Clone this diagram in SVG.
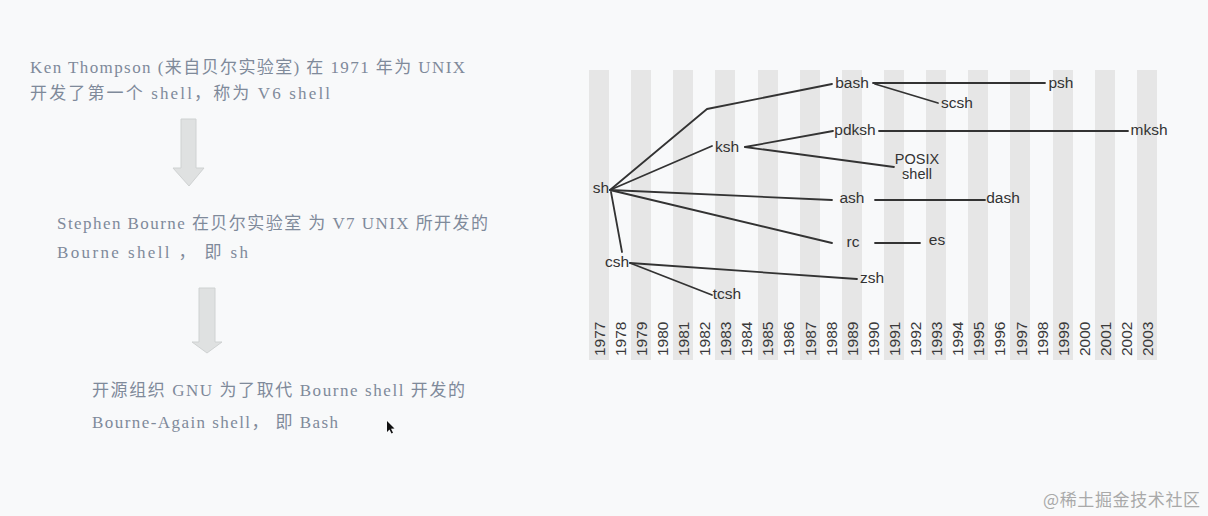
<svg xmlns="http://www.w3.org/2000/svg" width="1208" height="516" viewBox="0 0 1208 516">
<defs>
<style>
.bg{fill:#f8f9fa}
.stripe{fill:#e6e6e6}
.yr{font-family:"Liberation Sans",Arial,sans-serif;font-size:15.5px;fill:#3a3a3a}
.nd{font-family:"Liberation Sans",Arial,sans-serif;font-size:15.5px;fill:#333;text-anchor:middle}
.nds{font-family:"Liberation Sans",Arial,sans-serif;font-size:14.5px;fill:#333;text-anchor:middle}
.ln{fill:none;stroke:#333;stroke-width:1.8;stroke-linecap:round;stroke-linejoin:round}
.tx{font-family:"Liberation Serif","Noto Sans CJK SC",serif;font-size:17px;fill:#7f8a9a}
.arr{fill:#dfe1e1;stroke:#cfd2d2;stroke-width:1}
.wm{font-family:"Noto Sans CJK SC",sans-serif;font-size:17px;fill:#a9a9a9}
</style>
</defs>
<rect class="bg" x="0" y="0" width="1208" height="516"/>

<g id="text-left">
<text class="tx" x="30" y="73" textLength="435" lengthAdjust="spacing">Ken Thompson (来自贝尔实验室) 在 1971 年为 UNIX</text>
<text class="tx" x="30" y="99" textLength="300" lengthAdjust="spacing">开发了第一个 shell，称为 V6 shell</text>
<text class="tx" x="57" y="229" textLength="431" lengthAdjust="spacing">Stephen Bourne 在贝尔实验室 为 V7 UNIX 所开发的</text>
<text class="tx" x="57" y="258" textLength="191" lengthAdjust="spacing">Bourne shell ， 即 sh</text>
<text class="tx" x="92" y="396" textLength="373" lengthAdjust="spacing">开源组织 GNU 为了取代 Bourne shell 开发的</text>
<text class="tx" x="92" y="428" textLength="246" lengthAdjust="spacing">Bourne-Again shell， 即 Bash</text>
</g>

<g id="arrows-left">
<polygon class="arr" points="181,119 196,119 196,168 204,168 189,186 173,168 181,168"/>
<polygon class="arr" points="199,288 215,288 215,342 222,342 207,353 192,342 199,342"/>
</g>

<g id="stripes">
<rect class="stripe" x="589" y="70" width="20" height="290"/>
<rect class="stripe" x="631" y="70" width="20" height="290"/>
<rect class="stripe" x="673" y="70" width="20" height="290"/>
<rect class="stripe" x="715" y="70" width="20" height="290"/>
<rect class="stripe" x="758" y="70" width="20" height="290"/>
<rect class="stripe" x="800" y="70" width="20" height="290"/>
<rect class="stripe" x="842" y="70" width="20" height="290"/>
<rect class="stripe" x="884" y="70" width="20" height="290"/>
<rect class="stripe" x="926" y="70" width="20" height="290"/>
<rect class="stripe" x="968" y="70" width="20" height="290"/>
<rect class="stripe" x="1010" y="70" width="20" height="290"/>
<rect class="stripe" x="1053" y="70" width="20" height="290"/>
<rect class="stripe" x="1095" y="70" width="20" height="290"/>
<rect class="stripe" x="1137" y="70" width="20" height="290"/>
</g>

<g id="years">
<text class="yr" transform="translate(604.5,356) rotate(-90)">1977</text>
<text class="yr" transform="translate(625.6,356) rotate(-90)">1978</text>
<text class="yr" transform="translate(646.7,356) rotate(-90)">1979</text>
<text class="yr" transform="translate(667.8,356) rotate(-90)">1980</text>
<text class="yr" transform="translate(688.9,356) rotate(-90)">1981</text>
<text class="yr" transform="translate(710,356) rotate(-90)">1982</text>
<text class="yr" transform="translate(731.1,356) rotate(-90)">1983</text>
<text class="yr" transform="translate(752.2,356) rotate(-90)">1984</text>
<text class="yr" transform="translate(773.3,356) rotate(-90)">1985</text>
<text class="yr" transform="translate(794.4,356) rotate(-90)">1986</text>
<text class="yr" transform="translate(815.5,356) rotate(-90)">1987</text>
<text class="yr" transform="translate(836.6,356) rotate(-90)">1988</text>
<text class="yr" transform="translate(857.7,356) rotate(-90)">1989</text>
<text class="yr" transform="translate(878.8,356) rotate(-90)">1990</text>
<text class="yr" transform="translate(899.9,356) rotate(-90)">1991</text>
<text class="yr" transform="translate(921,356) rotate(-90)">1992</text>
<text class="yr" transform="translate(942.1,356) rotate(-90)">1993</text>
<text class="yr" transform="translate(963.2,356) rotate(-90)">1994</text>
<text class="yr" transform="translate(984.3,356) rotate(-90)">1995</text>
<text class="yr" transform="translate(1005.4,356) rotate(-90)">1996</text>
<text class="yr" transform="translate(1026.5,356) rotate(-90)">1997</text>
<text class="yr" transform="translate(1047.6,356) rotate(-90)">1998</text>
<text class="yr" transform="translate(1068.7,356) rotate(-90)">1999</text>
<text class="yr" transform="translate(1089.8,356) rotate(-90)">2000</text>
<text class="yr" transform="translate(1110.9,356) rotate(-90)">2001</text>
<text class="yr" transform="translate(1132,356) rotate(-90)">2002</text>
<text class="yr" transform="translate(1153.1,356) rotate(-90)">2003</text>
</g>

<g id="connectors">
<polyline class="ln" points="610,190 707,109 832,84"/>
<line class="ln" x1="610" y1="190" x2="712" y2="146"/>
<line class="ln" x1="745" y1="147" x2="833" y2="131"/>
<line class="ln" x1="745" y1="147" x2="894" y2="167"/>
<line class="ln" x1="879" y1="131" x2="1128" y2="131"/>
<line class="ln" x1="873" y1="83" x2="1045" y2="83"/>
<line class="ln" x1="875" y1="84" x2="938" y2="103"/>
<line class="ln" x1="610" y1="190" x2="832" y2="200"/>
<line class="ln" x1="875" y1="200" x2="985" y2="200"/>
<line class="ln" x1="610" y1="190" x2="832" y2="243"/>
<line class="ln" x1="875" y1="243" x2="920" y2="243"/>
<line class="ln" x1="611" y1="192" x2="622" y2="252"/>
<line class="ln" x1="630" y1="263" x2="857" y2="279"/>
<line class="ln" x1="630" y1="263" x2="712" y2="295"/>
</g>

<g id="node-sh"><text class="nd" x="601" y="193">sh</text></g>
<g id="node-bash"><text class="nd" x="852" y="88">bash</text></g>
<g id="node-psh"><text class="nd" x="1061" y="88">psh</text></g>
<g id="node-scsh"><text class="nd" x="957" y="108">scsh</text></g>
<g id="node-ksh"><text class="nd" x="727" y="152">ksh</text></g>
<g id="node-pdksh"><text class="nd" x="855" y="135">pdksh</text></g>
<g id="node-mksh"><text class="nd" x="1149" y="135">mksh</text></g>
<g id="node-posix"><text class="nds" x="917" y="164">POSIX</text><text class="nds" x="917" y="179">shell</text></g>
<g id="node-ash"><text class="nd" x="852" y="203">ash</text></g>
<g id="node-dash"><text class="nd" x="1003" y="203">dash</text></g>
<g id="node-rc"><text class="nd" x="853" y="247">rc</text></g>
<g id="node-es"><text class="nd" x="937" y="245">es</text></g>
<g id="node-csh"><text class="nd" x="617" y="267">csh</text></g>
<g id="node-zsh"><text class="nd" x="872" y="283">zsh</text></g>
<g id="node-tcsh"><text class="nd" x="727" y="299">tcsh</text></g>

<path d="M387,421 L387,432 L389.5,429.5 L391.5,433.5 L393,432.8 L391,428.8 L394.5,428.5 Z" fill="#111"/>

<text class="wm" x="1043" y="506" textLength="157" lengthAdjust="spacing">@稀土掘金技术社区</text>
</svg>
